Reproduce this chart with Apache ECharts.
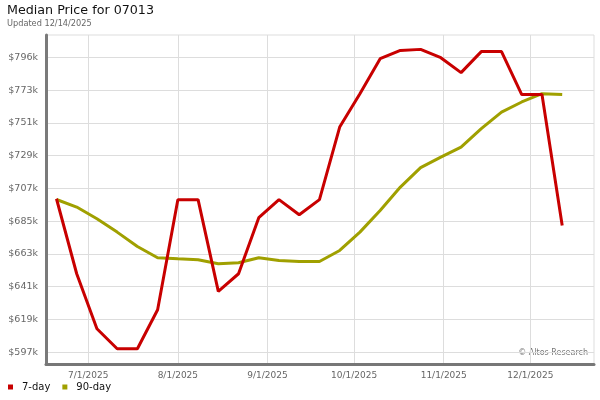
<!DOCTYPE html>
<html>
<head>
<meta charset="utf-8">
<title>Median Price for 07013</title>
<script src="https://cdn.jsdelivr.net/npm/echarts@6/dist/echarts.min.js"></script>
<style>
  html, body { margin: 0; padding: 0; background: #fff; }
  #chart { width: 600px; height: 400px; }
</style>
</head>
<body>
<div id="chart"></div>
<script>
// weekly sample dates
const dates = [
  '2025-06-20', '2025-06-27', '2025-07-04', '2025-07-11', '2025-07-18', '2025-07-25',
  '2025-08-01', '2025-08-08', '2025-08-15', '2025-08-22', '2025-08-29', '2025-09-05',
  '2025-09-12', '2025-09-19', '2025-09-26', '2025-10-03', '2025-10-10', '2025-10-17',
  '2025-10-24', '2025-10-31', '2025-11-07', '2025-11-14', '2025-11-21', '2025-11-28',
  '2025-12-05', '2025-12-12'
]
// 7-day median price
const sevenDay = [
  700500, 649900, 612800, 599300, 599300, 625600,
  699900, 699900, 638000, 649900, 687700, 699900,
  689700, 699900, 748900, 771400, 795000, 800600,
  801300, 795700, 785600, 799800, 799800, 770800,
  770800, 682500
]
// 90-day median price
const ninetyDay = [
  700000, 694900, 687000, 678000, 668300, 660700,
  660000, 659400, 656700, 657300, 660700, 658900,
  658200, 658200, 665600, 678000, 692600, 708400,
  721500, 728600, 735400, 747800, 759000, 765800,
  771400, 770800
]
// axis ticks
const yTicks = [597000, 619100, 641200, 663300, 685400, 707500, 729600, 751700, 773800, 795900]
const yLabels = ['$597k', '$619k', '$641k', '$663k', '$685k', '$707k', '$729k', '$751k', '$773k', '$796k']
const xTicks = ['2025-07-01', '2025-08-01', '2025-09-01', '2025-10-01', '2025-11-01', '2025-12-01']
const xLabels = ['7/1/2025', '8/1/2025', '9/1/2025', '10/1/2025', '11/1/2025', '12/1/2025']

const font = 'DejaVu Sans'
const ms = d => new Date(d).getTime()
const xTickMs = xTicks.map(ms)

const chart = echarts.init(document.getElementById('chart'))

chart.setOption({
  animation: false,
  textStyle: { fontFamily: font },
  title: {
    text: 'Median Price for 07013',
    subtext: 'Updated 12/14/2025',
    left: 7,
    top: 4,
    padding: 0,
    itemGap: 3,
    textStyle: { fontFamily: font, fontSize: 12.7, fontWeight: 'normal', color: '#111' },
    subtextStyle: { fontFamily: font, fontSize: 8.2, color: '#666' }
  },
  legend: {
    left: 8,
    top: 382,
    padding: 0,
    itemWidth: 5,
    itemHeight: 5,
    itemGap: 12,
    icon: 'rect',
    textStyle: { fontFamily: font, fontSize: 10, color: '#111', padding: [0, 0, 0, 4] },
    data: ['7-day', '90-day']
  },
  grid: {
    left: 46,
    right: 6,
    top: 35,
    bottom: 36,
    show: true,
    borderColor: '#dddddd',
    borderWidth: 1
  },
  xAxis: {
    type: 'value',
    min: ms('2025-06-16T09:00:00Z'),
    max: ms('2025-12-23T00:00:00Z'),
    axisLine: { show: true, onZero: false, lineStyle: { color: '#777', width: 3 } },
    axisTick: { show: false, customValues: xTickMs },
    splitLine: { show: true, lineStyle: { color: '#dddddd', width: 1 } },
    axisLabel: {
      customValues: xTickMs,
      margin: 7,
      fontSize: 9,
      color: '#666',
      formatter: function (value) {
        const i = xTickMs.indexOf(value)
        return i >= 0 ? xLabels[i] : ''
      }
    }
  },
  yAxis: {
    type: 'value',
    min: 589000,
    max: 811000,
    axisLine: { show: true, lineStyle: { color: '#7a7a7a', width: 3 } },
    axisTick: { show: false, customValues: yTicks },
    splitLine: { show: true, lineStyle: { color: '#dddddd', width: 1 } },
    axisLabel: {
      customValues: yTicks,
      margin: 8,
      fontSize: 9.5,
      color: '#666',
      formatter: function (value) {
        const i = yTicks.indexOf(value)
        return i >= 0 ? yLabels[i] : ''
      }
    }
  },
  graphic: [
    {
      type: 'text',
      right: 12,
      top: 349,
      style: { text: '\u00a9 Altos Research', fontFamily: font, fontSize: 8, fill: '#777' }
    }
  ],
  series: [
    {
      name: '7-day',
      type: 'line',
      data: dates.map((d, i) => [ms(d), sevenDay[i]]),
      showSymbol: false,
      color: '#c80000',
      lineStyle: { width: 3 },
      z: 3
    },
    {
      name: '90-day',
      type: 'line',
      data: dates.map((d, i) => [ms(d), ninetyDay[i]]),
      showSymbol: false,
      color: '#a0a000',
      lineStyle: { width: 3 },
      z: 2
    }
  ]
})
</script>
</body>
</html>
